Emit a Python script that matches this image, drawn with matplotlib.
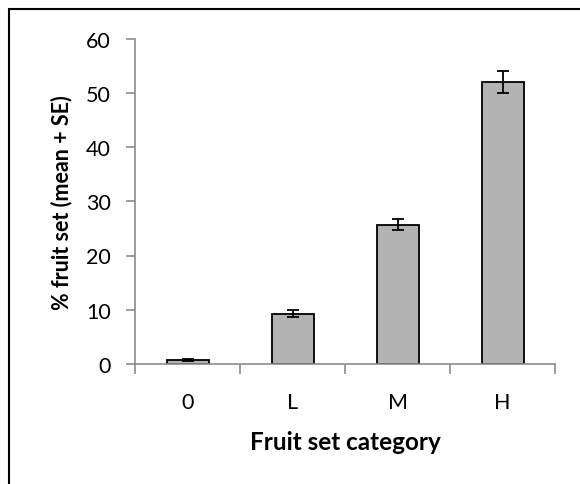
import matplotlib
matplotlib.use("Agg")
import matplotlib.pyplot as plt
from matplotlib.patches import Rectangle
from matplotlib.ticker import FixedLocator, NullFormatter

categories = ["0", "L", "M", "H"]
means = [0.8, 9.3, 25.7, 52.0]
se = [0.2, 0.65, 1.0, 2.0]
yticks = [0, 10, 20, 30, 40, 50, 60]

plt.rcParams['font.family'] = ['Lato', 'DejaVu Sans']

fig = plt.figure(figsize=(5.8, 4.85), dpi=100)
ax = fig.add_axes([135/580, 1-365/485, 420/580, (365-39.5)/485])

x = list(range(len(categories)))
ax.bar(x, means, width=0.4, color="#b3b3b3", edgecolor="black", linewidth=1.3, zorder=2)
ax.errorbar(x, means, yerr=se, fmt="none", ecolor="black", elinewidth=1.3,
            capsize=4.5, capthick=1.3, zorder=3)

ax.set_xlim(-0.5, 3.5)
ax.set_ylim(0, 60)
ax.set_yticks(yticks)
ax.set_xticks(x)
ax.set_xticklabels(categories)
ax.xaxis.set_minor_locator(FixedLocator([-0.5, 0.5, 1.5, 2.5, 3.5]))
ax.xaxis.set_minor_formatter(NullFormatter())
ax.tick_params(axis="x", which="major", length=0, pad=20, labelsize=15.5)
ax.tick_params(axis="x", which="minor", length=7, width=1.2, color="#8c8c8c", direction="out")
ax.tick_params(axis="y", length=6.5, width=1.2, color="#8c8c8c", labelsize=15.5, pad=11)

for s in ["top", "right"]:
    ax.spines[s].set_visible(False)
for s in ["left", "bottom"]:
    ax.spines[s].set_color("#8c8c8c")
    ax.spines[s].set_linewidth(1.2)

ax.set_ylabel("% fruit set (mean + SE)", fontsize=15.5, fontweight="bold", labelpad=10)
ax.set_xlabel("Fruit set category", fontsize=17.5, fontweight="bold", labelpad=13)

fig.patches.append(Rectangle((9/580, -0.1), 1.2, 1 - 9.5/485 + 0.1,
                             transform=fig.transFigure, fill=False,
                             edgecolor="black", linewidth=1.5))

fig.savefig("out.png", dpi=100)
